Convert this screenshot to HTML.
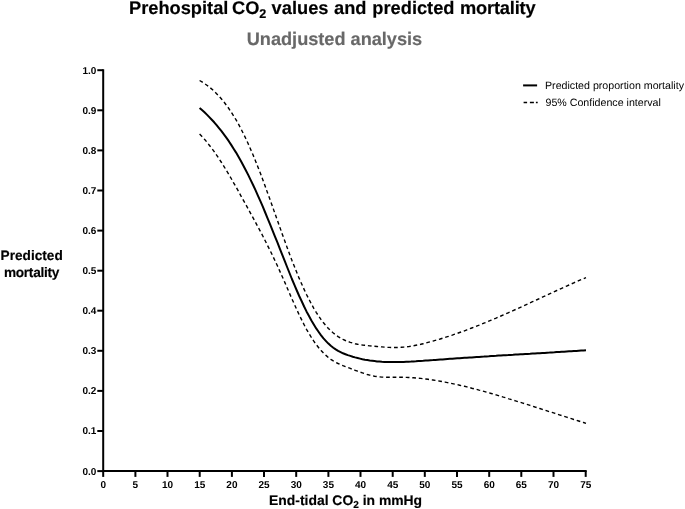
<!DOCTYPE html>
<html><head><meta charset="utf-8"><title>Prehospital CO2 values and predicted mortality</title>
<style>
html,body{margin:0;padding:0;background:#fff;}
body{width:685px;height:509px;overflow:hidden;font-family:"Liberation Sans",sans-serif;}
svg{display:block;will-change:transform;transform:translateZ(0);}
text{font-family:"Liberation Sans",sans-serif;fill:#000;text-rendering:geometricPrecision;}
.b{font-weight:bold;stroke:#000;stroke-width:0.16px;}
</style></head><body>
<svg width="685" height="509" viewBox="0 0 685 509">
<rect width="685" height="509" fill="#fff"/>
<!-- titles -->
<text class="b" x="129.0" y="14.2" font-size="18.25">Prehospital<tspan dx="-1.5"> CO</tspan><tspan font-size="12.6" dy="3.3">2</tspan><tspan dy="-3.3" dx="0.2"> values</tspan><tspan dx="0.5"> and</tspan><tspan dx="0.8"> predicted</tspan><tspan dx="0.7" letter-spacing="-0.2"> mortality</tspan></text>
<text class="b" x="334.45" y="45" font-size="18.15" text-anchor="middle" style="fill:#686868;stroke:#686868">Unadjusted analysis</text>
<!-- y label -->
<text class="b" x="31.65" y="259.9" font-size="13.65" text-anchor="middle">Predicted</text>
<text class="b" x="31.5" y="276.6" font-size="13.65" letter-spacing="-0.27" text-anchor="middle">mortality</text>
<!-- x label -->
<text class="b" x="345.6" y="505" font-size="13.9" text-anchor="middle">End-tidal CO<tspan font-size="10.1" dy="2.9">2</tspan><tspan dy="-2.9"> in mmHg</tspan></text>
<!-- axes -->
<g stroke="#000" stroke-width="2" fill="none" stroke-linecap="butt">
<path d="M103.2,69.2 V471.1 H586.7" stroke-linejoin="miter"/>
<line x1="103.2" y1="471.1" x2="103.2" y2="476.9"/><line x1="135.4" y1="471.1" x2="135.4" y2="476.9"/><line x1="167.5" y1="471.1" x2="167.5" y2="476.9"/><line x1="199.7" y1="471.1" x2="199.7" y2="476.9"/><line x1="231.9" y1="471.1" x2="231.9" y2="476.9"/><line x1="264.0" y1="471.1" x2="264.0" y2="476.9"/><line x1="296.2" y1="471.1" x2="296.2" y2="476.9"/><line x1="328.4" y1="471.1" x2="328.4" y2="476.9"/><line x1="360.5" y1="471.1" x2="360.5" y2="476.9"/><line x1="392.7" y1="471.1" x2="392.7" y2="476.9"/><line x1="424.8" y1="471.1" x2="424.8" y2="476.9"/><line x1="457.0" y1="471.1" x2="457.0" y2="476.9"/><line x1="489.2" y1="471.1" x2="489.2" y2="476.9"/><line x1="521.3" y1="471.1" x2="521.3" y2="476.9"/><line x1="553.5" y1="471.1" x2="553.5" y2="476.9"/><line x1="585.7" y1="471.1" x2="585.7" y2="476.9"/>
<line x1="97.3" y1="471.1" x2="103.2" y2="471.1"/><line x1="97.3" y1="431.0" x2="103.2" y2="431.0"/><line x1="97.3" y1="390.9" x2="103.2" y2="390.9"/><line x1="97.3" y1="350.8" x2="103.2" y2="350.8"/><line x1="97.3" y1="310.7" x2="103.2" y2="310.7"/><line x1="97.3" y1="270.7" x2="103.2" y2="270.7"/><line x1="97.3" y1="230.6" x2="103.2" y2="230.6"/><line x1="97.3" y1="190.5" x2="103.2" y2="190.5"/><line x1="97.3" y1="150.4" x2="103.2" y2="150.4"/><line x1="97.3" y1="110.3" x2="103.2" y2="110.3"/><line x1="97.3" y1="70.2" x2="103.2" y2="70.2"/>
</g>
<g font-size="10" text-anchor="middle" font-weight="bold"><text x="103.2" y="487.7">0</text><text x="135.4" y="487.7">5</text><text x="167.5" y="487.7">10</text><text x="199.7" y="487.7">15</text><text x="231.9" y="487.7">20</text><text x="264.0" y="487.7">25</text><text x="296.2" y="487.7">30</text><text x="328.4" y="487.7">35</text><text x="360.5" y="487.7">40</text><text x="392.7" y="487.7">45</text><text x="424.8" y="487.7">50</text><text x="457.0" y="487.7">55</text><text x="489.2" y="487.7">60</text><text x="521.3" y="487.7">65</text><text x="553.5" y="487.7">70</text><text x="585.7" y="487.7">75</text></g>
<g font-size="10" text-anchor="end" font-weight="bold"><text x="96.3" y="474.5">0.0</text><text x="96.3" y="434.4">0.1</text><text x="96.3" y="394.3">0.2</text><text x="96.3" y="354.2">0.3</text><text x="96.3" y="314.1">0.4</text><text x="96.3" y="274.0">0.5</text><text x="96.3" y="233.9">0.6</text><text x="96.3" y="193.8">0.7</text><text x="96.3" y="153.7">0.8</text><text x="96.3" y="113.6">0.9</text><text x="96.3" y="73.6">1.0</text></g>
<!-- curves -->
<g fill="none" stroke="#000">
<path d="M199.6,80.5 L202.0,81.9 L204.5,83.5 L206.9,85.2 L209.3,87.0 L211.8,89.1 L214.2,91.3 L216.6,93.7 L219.0,96.2 L221.5,99.0 L223.9,101.9 L226.3,105.1 L228.8,108.5 L231.2,112.1 L233.6,115.9 L236.1,119.9 L238.5,124.2 L240.9,128.7 L243.3,133.5 L245.8,138.5 L248.2,143.8 L250.6,149.3 L253.1,155.0 L255.5,160.9 L257.9,167.0 L260.4,173.3 L262.8,179.7 L265.2,186.3 L267.6,193.0 L270.1,199.7 L272.5,206.5 L274.9,213.4 L277.4,220.3 L279.8,227.1 L282.2,233.9 L284.7,240.7 L287.1,247.4 L289.5,253.9 L291.9,260.3 L294.4,266.5 L296.8,272.6 L299.2,278.4 L301.7,284.0 L304.1,289.4 L306.5,294.5 L309.0,299.4 L311.4,304.0 L313.8,308.3 L316.2,312.3 L318.7,316.1 L321.1,319.6 L323.5,322.8 L326.0,325.8 L328.4,328.4 L330.8,330.8 L333.3,333.0 L335.7,334.9 L338.1,336.6 L340.6,338.1 L343.0,339.4 L345.4,340.5 L347.8,341.5 L350.3,342.3 L352.7,343.0 L355.1,343.7 L357.6,344.2 L360.0,344.6 L362.4,345.0 L364.9,345.3 L367.3,345.6 L369.7,345.9 L372.1,346.1 L374.6,346.3 L377.0,346.5 L379.4,346.7 L381.9,346.9 L384.3,347.1 L386.7,347.3 L389.2,347.4 L391.6,347.5 L394.0,347.5 L396.4,347.5 L398.9,347.5 L401.3,347.3 L403.7,347.1 L406.2,346.9 L408.6,346.6 L411.0,346.2 L413.5,345.8 L415.9,345.3 L418.3,344.8 L420.7,344.3 L423.2,343.7 L425.6,343.1 L428.0,342.4 L430.5,341.8 L432.9,341.1 L435.3,340.4 L437.8,339.7 L440.2,339.0 L442.6,338.2 L445.0,337.5 L447.5,336.7 L449.9,335.9 L452.3,335.1 L454.8,334.2 L457.2,333.4 L459.6,332.5 L462.1,331.7 L464.5,330.8 L466.9,329.9 L469.4,328.9 L471.8,328.0 L474.2,327.1 L476.6,326.1 L479.1,325.2 L481.5,324.2 L483.9,323.2 L486.4,322.2 L488.8,321.2 L491.2,320.2 L493.7,319.1 L496.1,318.1 L498.5,317.0 L500.9,316.0 L503.4,314.9 L505.8,313.8 L508.2,312.8 L510.7,311.7 L513.1,310.6 L515.5,309.5 L518.0,308.4 L520.4,307.3 L522.8,306.2 L525.2,305.1 L527.7,303.9 L530.1,302.8 L532.5,301.7 L535.0,300.6 L537.4,299.5 L539.8,298.3 L542.3,297.2 L544.7,296.1 L547.1,295.0 L549.5,293.8 L552.0,292.7 L554.4,291.6 L556.8,290.5 L559.3,289.4 L561.7,288.3 L564.1,287.2 L566.6,286.1 L569.0,285.0 L571.4,283.9 L573.8,282.8 L576.3,281.8 L578.7,280.7 L581.1,279.6 L583.6,278.6 L586.0,277.6" stroke-width="1.4" stroke-dasharray="3.7 2.85"/>
<path d="M199.6,134.1 L202.0,136.6 L204.5,139.3 L206.9,142.1 L209.3,145.2 L211.8,148.3 L214.2,151.6 L216.6,155.1 L219.0,158.7 L221.5,162.5 L223.9,166.3 L226.3,170.3 L228.8,174.4 L231.2,178.5 L233.6,182.8 L236.1,187.1 L238.5,191.4 L240.9,195.8 L243.3,200.1 L245.8,204.5 L248.2,208.9 L250.6,213.3 L253.1,217.8 L255.5,222.3 L257.9,226.8 L260.4,231.4 L262.8,236.0 L265.2,240.8 L267.6,245.6 L270.1,250.5 L272.5,255.4 L274.9,260.5 L277.4,265.8 L279.8,271.1 L282.2,276.5 L284.7,282.1 L287.1,287.7 L289.5,293.3 L291.9,298.8 L294.4,304.3 L296.8,309.7 L299.2,314.9 L301.7,319.9 L304.1,324.7 L306.5,329.3 L309.0,333.5 L311.4,337.5 L313.8,341.2 L316.2,344.6 L318.7,347.7 L321.1,350.6 L323.5,353.1 L326.0,355.4 L328.4,357.5 L330.8,359.3 L333.3,360.9 L335.7,362.3 L338.1,363.5 L340.6,364.6 L343.0,365.7 L345.4,366.6 L347.8,367.5 L350.3,368.4 L352.7,369.4 L355.1,370.3 L357.6,371.2 L360.0,372.1 L362.4,372.9 L364.9,373.7 L367.3,374.5 L369.7,375.1 L372.1,375.7 L374.6,376.2 L377.0,376.6 L379.4,376.9 L381.9,377.1 L384.3,377.2 L386.7,377.3 L389.2,377.3 L391.6,377.3 L394.0,377.3 L396.4,377.2 L398.9,377.2 L401.3,377.2 L403.7,377.3 L406.2,377.4 L408.6,377.5 L411.0,377.6 L413.5,377.8 L415.9,378.0 L418.3,378.2 L420.7,378.4 L423.2,378.7 L425.6,379.0 L428.0,379.3 L430.5,379.7 L432.9,380.0 L435.3,380.4 L437.8,380.8 L440.2,381.2 L442.6,381.7 L445.0,382.1 L447.5,382.6 L449.9,383.1 L452.3,383.6 L454.8,384.1 L457.2,384.6 L459.6,385.2 L462.1,385.8 L464.5,386.3 L466.9,386.9 L469.4,387.5 L471.8,388.2 L474.2,388.8 L476.6,389.4 L479.1,390.1 L481.5,390.7 L483.9,391.4 L486.4,392.1 L488.8,392.8 L491.2,393.5 L493.7,394.2 L496.1,394.9 L498.5,395.6 L500.9,396.3 L503.4,397.1 L505.8,397.8 L508.2,398.6 L510.7,399.3 L513.1,400.1 L515.5,400.8 L518.0,401.6 L520.4,402.3 L522.8,403.1 L525.2,403.9 L527.7,404.6 L530.1,405.4 L532.5,406.2 L535.0,407.0 L537.4,407.7 L539.8,408.5 L542.3,409.3 L544.7,410.1 L547.1,410.9 L549.5,411.7 L552.0,412.4 L554.4,413.2 L556.8,414.0 L559.3,414.8 L561.7,415.6 L564.1,416.4 L566.6,417.1 L569.0,417.9 L571.4,418.7 L573.8,419.5 L576.3,420.2 L578.7,421.0 L581.1,421.8 L583.6,422.5 L586.0,423.3" stroke-width="1.4" stroke-dasharray="3.7 2.85"/>
<path d="M199.6,108.0 L202.0,110.1 L204.5,112.3 L206.9,114.6 L209.3,117.1 L211.8,119.7 L214.2,122.3 L216.6,125.1 L219.0,128.1 L221.5,131.2 L223.9,134.4 L226.3,137.7 L228.8,141.2 L231.2,144.9 L233.6,148.7 L236.1,152.6 L238.5,156.8 L240.9,161.1 L243.3,165.5 L245.8,170.2 L248.2,174.9 L250.6,179.9 L253.1,185.0 L255.5,190.2 L257.9,195.6 L260.4,201.1 L262.8,206.7 L265.2,212.5 L267.6,218.3 L270.1,224.3 L272.5,230.3 L274.9,236.3 L277.4,242.4 L279.8,248.6 L282.2,254.7 L284.7,260.9 L287.1,267.0 L289.5,273.0 L291.9,279.0 L294.4,284.8 L296.8,290.5 L299.2,296.0 L301.7,301.3 L304.1,306.5 L306.5,311.4 L309.0,316.0 L311.4,320.4 L313.8,324.5 L316.2,328.4 L318.7,332.0 L321.1,335.3 L323.5,338.4 L326.0,341.1 L328.4,343.6 L330.8,345.8 L333.3,347.7 L335.7,349.4 L338.1,350.9 L340.6,352.1 L343.0,353.3 L345.4,354.2 L347.8,355.1 L350.3,355.9 L352.7,356.7 L355.1,357.4 L357.6,358.0 L360.0,358.6 L362.4,359.2 L364.9,359.7 L367.3,360.1 L369.7,360.5 L372.1,360.8 L374.6,361.1 L377.0,361.4 L379.4,361.6 L381.9,361.8 L384.3,361.9 L386.7,362.0 L389.2,362.1 L391.6,362.1 L394.0,362.1 L396.4,362.1 L398.9,362.1 L401.3,362.0 L403.7,361.9 L406.2,361.8 L408.6,361.7 L411.0,361.6 L413.5,361.4 L415.9,361.3 L418.3,361.1 L420.7,360.9 L423.2,360.8 L425.6,360.6 L428.0,360.4 L430.5,360.2 L432.9,360.1 L435.3,359.9 L437.8,359.7 L440.2,359.5 L442.6,359.4 L445.0,359.2 L447.5,359.0 L449.9,358.8 L452.3,358.7 L454.8,358.5 L457.2,358.3 L459.6,358.2 L462.1,358.0 L464.5,357.8 L466.9,357.7 L469.4,357.5 L471.8,357.4 L474.2,357.2 L476.6,357.0 L479.1,356.9 L481.5,356.7 L483.9,356.6 L486.4,356.4 L488.8,356.3 L491.2,356.1 L493.7,355.9 L496.1,355.8 L498.5,355.6 L500.9,355.5 L503.4,355.3 L505.8,355.2 L508.2,355.1 L510.7,354.9 L513.1,354.8 L515.5,354.6 L518.0,354.5 L520.4,354.3 L522.8,354.2 L525.2,354.0 L527.7,353.9 L530.1,353.8 L532.5,353.6 L535.0,353.5 L537.4,353.3 L539.8,353.2 L542.3,353.0 L544.7,352.9 L547.1,352.7 L549.5,352.6 L552.0,352.4 L554.4,352.3 L556.8,352.1 L559.3,352.0 L561.7,351.8 L564.1,351.7 L566.6,351.5 L569.0,351.3 L571.4,351.2 L573.8,351.0 L576.3,350.9 L578.7,350.7 L581.1,350.5 L583.6,350.4 L586.0,350.2" stroke-width="2.0" stroke-linejoin="round"/>
</g>
<!-- legend -->
<line x1="523.1" y1="85.4" x2="537.1" y2="85.4" stroke="#000" stroke-width="2.0"/>
<path d="M523.6,102.5 H527.1 M529.9,102.5 H533.9 M535.9,102.5 H537.7" stroke="#000" stroke-width="1.35" fill="none"/>
<text x="545.0" y="89.2" font-size="10.65">Predicted proportion mortality</text>
<text x="545.5" y="105.8" font-size="10.65">95% Confidence interval</text>
</svg>
</body></html>
